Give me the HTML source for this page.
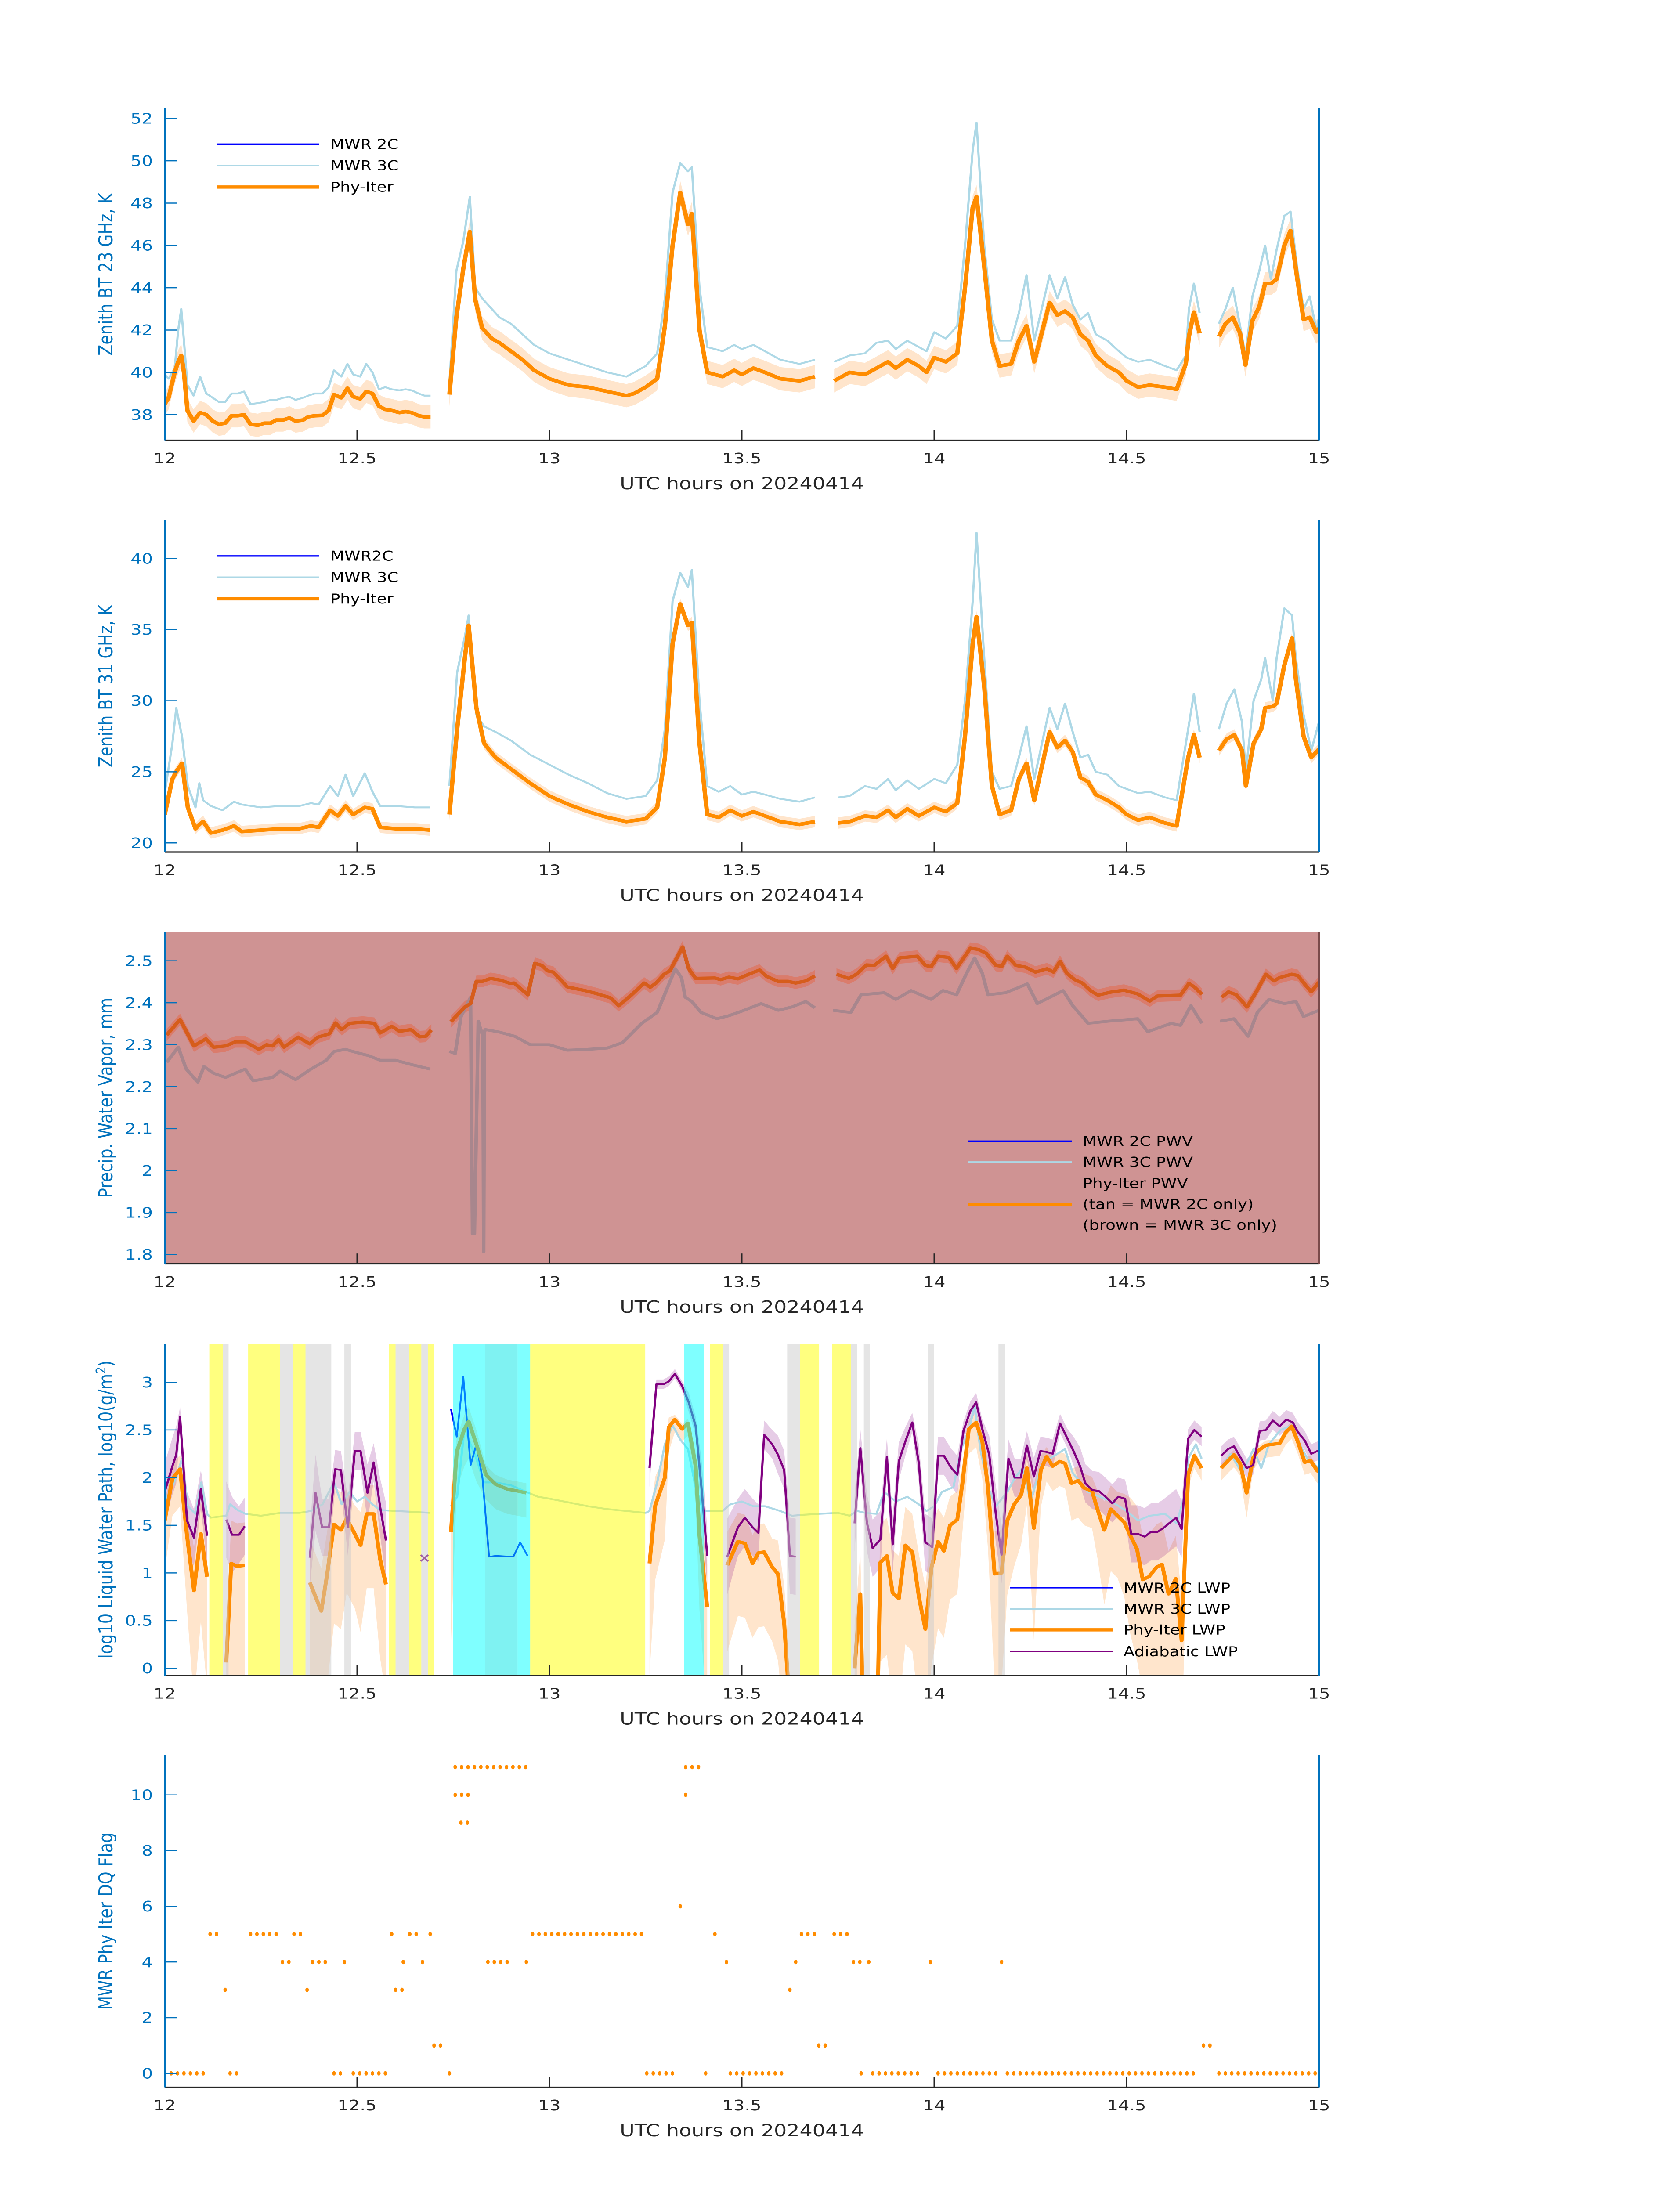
<!DOCTYPE html>
<html><head><meta charset="utf-8"><title>MWR Phy-Iter retrieval, 20240414</title>
<style>html,body{margin:0;padding:0;background:#fff;width:100%;height:100%;overflow:hidden}svg{display:block;width:100vw;height:100vh;font-family:"DejaVu Sans","Liberation Sans",sans-serif}</style>
</head><body>
<svg id="chart" xmlns="http://www.w3.org/2000/svg" viewBox="0 0 3825 6000" preserveAspectRatio="none"></svg>
<script>
// ---------- Panel 1: BT 23 GHz ----------
const t1 = [12.0,12.01,12.026,12.035,12.043,12.05,12.059,12.075,12.092,12.108,12.125,12.141,12.157,12.174,12.19,12.206,12.223,12.242,12.259,12.275,12.29,12.308,12.324,12.34,12.36,12.373,12.39,12.41,12.426,12.44,12.459,12.475,12.49,12.508,12.524,12.54,12.557,12.573,12.59,12.61,12.626,12.642,12.66,12.675,12.691,12.72,12.74,12.758,12.776,12.793,12.807,12.825,12.85,12.87,12.9,12.93,12.96,13.0,13.05,13.1,13.15,13.2,13.22,13.25,13.28,13.3,13.32,13.34,13.36,13.37,13.39,13.41,13.45,13.48,13.5,13.53,13.56,13.6,13.65,13.69,13.72,13.74,13.78,13.82,13.85,13.88,13.9,13.93,13.96,13.98,14.0,14.03,14.06,14.08,14.1,14.11,14.13,14.15,14.17,14.2,14.22,14.24,14.26,14.3,14.32,14.34,14.36,14.38,14.4,14.42,14.45,14.48,14.5,14.53,14.56,14.6,14.63,14.654,14.662,14.675,14.69,14.72,14.74,14.757,14.776,14.795,14.809,14.827,14.845,14.86,14.875,14.89,14.91,14.926,14.943,14.96,14.976,14.993,15.01];
const phy23 = [38.5,38.8,40.0,40.5,40.8,40.0,38.2,37.7,38.1,38.0,37.7,37.55,37.6,37.95,37.95,38.0,37.55,37.5,37.6,37.6,37.75,37.75,37.85,37.7,37.75,37.9,37.95,37.97,38.2,38.95,38.8,39.25,38.85,38.75,39.1,39.0,38.4,38.25,38.2,38.1,38.15,38.1,37.95,37.9,37.9,null,38.95,42.6,44.9,46.65,43.45,42.1,41.6,41.4,41.0,40.6,40.1,39.7,39.4,39.3,39.1,38.9,39.0,39.3,39.7,42.2,46.0,48.5,47.0,47.5,42.0,40.0,39.8,40.1,39.9,40.2,40.0,39.7,39.6,39.8,null,39.6,40.0,39.9,40.2,40.5,40.2,40.6,40.3,40.0,40.7,40.5,40.9,44.0,47.8,48.3,45.0,41.5,40.3,40.4,41.5,42.2,40.5,43.3,42.7,42.9,42.6,41.8,41.5,40.8,40.3,40.0,39.6,39.3,39.4,39.3,39.2,40.4,41.7,42.85,41.85,null,41.7,42.3,42.6,41.85,40.35,42.45,43.1,44.2,44.2,44.4,46.0,46.7,44.5,42.5,42.6,41.9,42.3];
const mwr3c23 = [39.9,39.7,40.2,42.0,43.0,41.5,39.4,38.9,39.8,39.0,38.8,38.6,38.6,39.0,39.0,39.1,38.5,38.55,38.6,38.7,38.7,38.8,38.85,38.7,38.8,38.9,39.0,39.0,39.3,40.1,39.8,40.4,39.9,39.8,40.4,40.0,39.2,39.3,39.2,39.15,39.2,39.15,39.0,38.9,38.9,null,39.5,44.8,46.2,48.3,44.0,43.5,43.0,42.6,42.3,41.8,41.3,40.9,40.6,40.3,40.0,39.8,40.0,40.3,40.9,43.5,48.5,49.9,49.5,49.7,44.0,41.2,41.0,41.3,41.1,41.3,41.0,40.6,40.4,40.6,null,40.5,40.8,40.9,41.4,41.5,41.1,41.5,41.2,41.0,41.9,41.6,42.2,46.0,50.5,51.8,46.0,42.5,41.5,41.5,42.8,44.6,41.5,44.6,43.5,44.5,43.2,42.5,42.8,41.8,41.5,41.0,40.7,40.5,40.6,40.3,40.1,40.8,43.0,44.2,42.8,null,42.3,43.0,44.0,42.2,40.8,43.6,44.8,46.0,44.4,45.8,47.4,47.6,45.0,43.0,43.6,42.0,43.4];
const ticks23 = [38,40,42,44,46,48,50,52];
const unc23 = 0.55;

// ---------- Panel 2: BT 31 GHz ----------
const t2 = [12.0,12.02,12.03,12.045,12.06,12.08,12.09,12.1,12.12,12.15,12.18,12.2,12.25,12.3,12.35,12.38,12.4,12.43,12.45,12.47,12.49,12.52,12.54,12.56,12.6,12.65,12.69,12.72,12.74,12.76,12.78,12.79,12.81,12.83,12.86,12.9,12.95,13.0,13.05,13.1,13.15,13.2,13.25,13.28,13.3,13.32,13.34,13.36,13.37,13.39,13.41,13.44,13.47,13.5,13.53,13.56,13.6,13.65,13.69,13.72,13.75,13.78,13.82,13.85,13.88,13.9,13.93,13.96,14.0,14.03,14.06,14.08,14.1,14.11,14.13,14.15,14.17,14.2,14.22,14.24,14.26,14.3,14.32,14.34,14.36,14.38,14.4,14.42,14.45,14.48,14.5,14.53,14.56,14.6,14.63,14.66,14.675,14.69,14.72,14.74,14.76,14.78,14.8,14.81,14.83,14.85,14.86,14.88,14.89,14.91,14.93,14.94,14.96,14.98,15.0];
const phy31 = [22.0,24.5,25.0,25.6,22.5,21.0,21.3,21.5,20.7,20.9,21.2,20.8,20.9,21.0,21.0,21.2,21.1,22.3,21.9,22.6,22.0,22.5,22.4,21.1,21.0,21.0,20.9,null,22.0,28.0,33.0,35.3,29.5,27.0,26.0,25.2,24.2,23.3,22.7,22.2,21.8,21.5,21.7,22.5,26.0,34.0,36.8,35.3,35.5,27.0,22.0,21.8,22.3,21.9,22.2,21.9,21.5,21.3,21.5,null,21.4,21.5,21.9,21.8,22.3,21.8,22.4,21.9,22.5,22.2,22.8,27.5,34.0,35.9,31.0,24.0,22.0,22.3,24.5,25.6,23.0,27.8,26.7,27.2,26.4,24.6,24.3,23.4,23.0,22.5,22.0,21.6,21.8,21.4,21.2,26.0,27.6,26.0,null,26.5,27.3,27.6,26.5,24.0,27.0,28.0,29.5,29.6,29.8,32.5,34.4,31.5,27.5,26.0,26.6];
const mwr3c31 = [23.5,27.0,29.5,27.5,24.0,22.5,24.2,23.0,22.6,22.3,22.9,22.7,22.5,22.6,22.6,22.8,22.7,24.0,23.3,24.8,23.3,24.9,23.6,22.6,22.6,22.5,22.5,null,24.0,32.0,34.5,36.0,29.0,28.2,27.8,27.2,26.2,25.5,24.8,24.2,23.5,23.1,23.3,24.4,28.0,37.0,39.0,38.0,39.2,30.0,24.0,23.6,24.0,23.4,23.6,23.4,23.1,22.9,23.2,null,23.2,23.3,24.0,23.8,24.5,23.7,24.4,23.8,24.5,24.2,25.5,30.0,37.0,41.8,33.0,25.0,23.8,24.0,26.0,28.2,24.5,29.5,28.0,29.8,27.8,26.0,26.2,25.0,24.8,24.0,23.8,23.5,23.6,23.2,23.0,28.0,30.5,27.8,null,28.0,29.8,30.8,28.5,25.0,30.0,31.5,33.0,30.0,33.0,36.5,36.0,33.0,29.0,26.5,28.5];
const ticks31 = [20,25,30,35,40];
const unc31 = 0.4;

// ---------- Panel 3: PWV ----------
const t3p = [12.005,12.04,12.076,12.107,12.127,12.158,12.184,12.209,12.245,12.265,12.28,12.296,12.31,12.347,12.377,12.398,12.428,12.444,12.46,12.48,12.515,12.545,12.56,12.59,12.61,12.64,12.663,12.678,12.693,12.72,12.744,12.78,12.795,12.81,12.826,12.847,12.872,12.898,12.908,12.944,12.962,12.98,12.995,13.01,13.046,13.092,13.118,13.158,13.18,13.21,13.246,13.262,13.277,13.298,13.313,13.346,13.362,13.38,13.43,13.445,13.466,13.49,13.518,13.546,13.564,13.594,13.62,13.64,13.666,13.69,13.72,13.746,13.778,13.798,13.824,13.844,13.875,13.892,13.91,13.956,13.977,13.992,14.01,14.038,14.058,14.094,14.115,14.135,14.16,14.176,14.19,14.212,14.237,14.263,14.293,14.31,14.327,14.345,14.365,14.385,14.406,14.426,14.457,14.493,14.529,14.56,14.58,14.64,14.662,14.677,14.696,14.72,14.747,14.765,14.785,14.813,14.837,14.862,14.883,14.898,14.929,14.945,14.965,14.98,15.0];
const phyPwv = [2.323,2.36,2.297,2.314,2.294,2.297,2.307,2.307,2.289,2.3,2.297,2.312,2.294,2.318,2.302,2.318,2.326,2.352,2.336,2.351,2.354,2.351,2.328,2.344,2.332,2.336,2.319,2.32,2.335,null,2.355,2.39,2.398,2.451,2.451,2.458,2.454,2.446,2.447,2.419,2.494,2.489,2.476,2.473,2.438,2.429,2.423,2.412,2.393,2.416,2.447,2.437,2.447,2.468,2.476,2.533,2.481,2.458,2.459,2.455,2.461,2.457,2.468,2.478,2.463,2.451,2.451,2.447,2.452,2.464,null,2.468,2.458,2.468,2.49,2.489,2.511,2.482,2.507,2.511,2.489,2.486,2.511,2.508,2.482,2.53,2.527,2.518,2.489,2.487,2.511,2.489,2.485,2.473,2.481,2.473,2.499,2.47,2.455,2.447,2.429,2.418,2.425,2.43,2.421,2.404,2.416,2.418,2.446,2.437,2.42,null,2.413,2.426,2.419,2.39,2.426,2.468,2.452,2.46,2.468,2.465,2.442,2.426,2.449];
const t3c = [12.005,12.035,12.056,12.086,12.102,12.127,12.158,12.209,12.23,12.28,12.3,12.34,12.38,12.42,12.44,12.47,12.5,12.53,12.56,12.6,12.64,12.69,12.72,12.74,12.755,12.77,12.795,12.8,12.805,12.815,12.82,12.827,12.829,12.831,12.833,12.835,12.87,12.91,12.95,13.0,13.046,13.1,13.15,13.19,13.24,13.28,13.313,13.327,13.343,13.353,13.37,13.394,13.435,13.466,13.5,13.55,13.595,13.63,13.666,13.69,13.72,13.737,13.783,13.81,13.87,13.9,13.94,13.992,14.023,14.058,14.084,14.105,14.125,14.14,14.186,14.242,14.268,14.335,14.36,14.4,14.452,14.529,14.555,14.616,14.64,14.667,14.696,14.72,14.743,14.779,14.816,14.84,14.87,14.91,14.94,14.96,15.0];
const mwr3cPwv = [2.258,2.294,2.242,2.211,2.248,2.232,2.222,2.242,2.214,2.222,2.237,2.217,2.242,2.263,2.284,2.289,2.281,2.274,2.263,2.263,2.253,2.242,null,2.284,2.279,2.367,2.413,1.849,1.849,2.356,2.34,2.32,1.807,2.33,2.336,2.336,2.33,2.32,2.3,2.3,2.287,2.289,2.292,2.305,2.351,2.377,2.45,2.481,2.46,2.413,2.403,2.377,2.362,2.369,2.38,2.398,2.382,2.39,2.403,2.388,null,2.382,2.377,2.419,2.424,2.408,2.429,2.408,2.429,2.419,2.47,2.507,2.47,2.419,2.424,2.445,2.398,2.429,2.393,2.351,2.356,2.362,2.331,2.351,2.346,2.393,2.351,null,2.356,2.362,2.32,2.377,2.408,2.398,2.403,2.367,2.382];
const ticksPwv = [1.8,1.9,2.0,2.1,2.2,2.3,2.4,2.5];
const uncPwv = 0.014;

// ---------- Panel 4: LWP ----------
const t4o = [12.0,12.02,12.04,12.058,12.076,12.094,12.11,12.13,12.16,12.173,12.188,12.208,12.3,12.377,12.392,12.407,12.422,12.44,12.458,12.473,12.494,12.509,12.525,12.543,12.56,12.575,12.7,12.744,12.759,12.779,12.79,12.81,12.835,12.86,12.89,12.917,12.94,13.1,13.26,13.275,13.3,13.31,13.326,13.345,13.36,13.38,13.39,13.41,13.43,13.462,13.49,13.508,13.528,13.543,13.558,13.579,13.594,13.61,13.62,13.7,13.793,13.808,13.813,13.83,13.854,13.86,13.877,13.892,13.908,13.925,13.943,13.961,13.977,13.993,14.01,14.025,14.041,14.06,14.073,14.09,14.109,14.125,14.14,14.157,14.175,14.19,14.208,14.226,14.241,14.259,14.277,14.292,14.308,14.326,14.34,14.357,14.374,14.39,14.41,14.425,14.442,14.459,14.476,14.494,14.51,14.527,14.542,14.558,14.578,14.592,14.609,14.628,14.643,14.66,14.676,14.695,14.72,14.746,14.764,14.779,14.795,14.812,14.829,14.841,14.862,14.898,14.913,14.929,14.945,14.963,14.978,14.996,15.01];
const phyLwp = [1.55,1.99,2.09,1.39,0.815,1.41,0.96,null,0.06,1.1,1.07,1.08,null,0.9,0.75,0.6,0.98,1.51,1.45,1.57,1.41,1.29,1.62,1.62,1.14,0.88,null,1.43,2.27,2.51,2.59,2.35,2.03,1.93,1.88,1.86,1.84,null,1.1,1.71,2.0,2.53,2.61,2.51,2.57,2.12,1.39,0.64,null,1.08,1.33,1.31,1.1,1.21,1.22,1.06,0.99,0.47,-0.13,null,0.0,0.78,-0.13,null,-0.13,1.11,1.18,0.79,0.73,1.29,1.22,0.73,0.41,1.06,1.33,1.23,1.5,1.56,1.93,2.51,2.58,2.38,1.89,0.99,1.0,1.55,1.72,1.82,2.1,1.47,2.08,2.22,2.12,2.17,2.15,1.94,1.97,1.89,1.86,1.66,1.45,1.67,1.6,1.53,1.39,1.25,0.93,0.96,1.06,1.09,0.78,0.94,0.29,2.03,2.23,2.1,null,2.1,2.18,2.24,2.15,1.84,2.21,2.28,2.34,2.36,2.47,2.54,2.38,2.16,2.18,2.07,2.15];
const phyLwpErr = [0.4,0.3,0.3,0.6,0.9,0.7,0.9,null,0.6,0.9,0.9,0.9,null,0.9,0.9,0.9,0.9,0.8,0.8,0.6,0.6,0.7,0.6,0.6,0.8,0.9,null,0.9,0.3,0.3,0.3,0.3,0.2,0.2,0.2,0.2,0.2,null,0.9,0.6,0.5,0.2,0.1,0.1,0.1,0.3,0.6,0.9,null,0.7,0.6,0.6,0.6,0.6,0.6,0.6,0.7,0.8,0.9,null,0.9,0.9,0.9,null,0.9,0.8,0.8,0.9,0.9,0.8,0.8,0.9,0.9,0.8,0.7,0.7,0.6,0.6,0.4,0.2,0.2,0.3,0.5,0.9,0.9,0.6,0.5,0.4,0.3,0.9,0.3,0.2,0.2,0.2,0.2,0.3,0.3,0.3,0.3,0.4,0.6,0.5,0.5,0.6,0.8,0.9,0.9,0.9,0.9,0.9,0.9,0.9,0.9,0.1,0.1,0.1,null,0.1,0.1,0.1,0.1,0.2,0.1,0.1,0.1,0.1,0.1,0.1,0.1,0.1,0.1,0.1,0.1];
const t4a = [12.0,12.02,12.03,12.04,12.058,12.076,12.094,12.11,12.13,12.16,12.175,12.193,12.208,12.3,12.377,12.392,12.409,12.427,12.443,12.458,12.476,12.494,12.509,12.527,12.543,12.56,12.575,12.9,13.26,13.278,13.296,13.31,13.326,13.345,13.362,13.38,13.395,13.41,13.43,13.462,13.49,13.508,13.528,13.543,13.558,13.579,13.594,13.61,13.625,13.64,13.7,13.793,13.808,13.825,13.84,13.86,13.877,13.892,13.908,13.925,13.943,13.96,13.977,13.995,14.01,14.025,14.043,14.06,14.076,14.094,14.109,14.125,14.143,14.16,14.175,14.193,14.209,14.225,14.241,14.259,14.276,14.292,14.308,14.327,14.345,14.362,14.379,14.393,14.411,14.428,14.445,14.463,14.478,14.496,14.512,14.529,14.547,14.563,14.58,14.595,14.61,14.629,14.643,14.66,14.676,14.695,14.72,14.746,14.764,14.779,14.795,14.812,14.829,14.846,14.862,14.88,14.898,14.915,14.932,14.945,14.963,14.98,14.996,15.01];
const adiLwp = [1.85,2.12,2.24,2.64,1.55,1.37,1.88,1.39,null,1.56,1.4,1.4,1.49,null,1.16,1.84,1.48,1.48,2.09,2.08,1.48,2.28,2.28,1.84,2.16,1.69,1.34,null,2.1,2.98,2.98,3.01,3.09,2.96,2.79,2.54,1.9,1.18,null,1.17,1.48,1.58,1.48,1.42,2.45,2.35,2.24,2.08,1.18,1.17,null,1.52,2.31,1.53,1.26,1.35,2.22,1.3,2.17,2.38,2.58,2.15,1.32,1.27,2.23,2.23,2.11,2.03,2.49,2.7,2.79,2.51,2.24,1.62,1.19,2.2,2.0,2.0,2.34,2.01,2.28,2.27,2.25,2.57,2.42,2.28,2.12,1.94,1.87,1.86,1.8,1.73,1.8,1.78,1.41,1.41,1.38,1.43,1.43,1.47,1.52,1.58,1.46,2.41,2.5,2.43,null,2.23,2.3,2.33,2.22,2.1,2.13,2.49,2.5,2.6,2.54,2.61,2.58,2.48,2.39,2.25,2.28,2.25];
const adiLwpErr = [0.3,0.3,0.3,0.1,0.3,0.3,0.2,0.3,null,0.4,0.4,0.3,0.3,null,0.3,0.4,0.3,0.3,0.2,0.2,0.3,0.2,0.2,0.3,0.2,0.3,0.4,null,0.2,0.05,0.05,0.05,0.05,0.05,0.1,0.1,0.3,0.3,null,0.4,0.3,0.3,0.3,0.3,0.15,0.15,0.2,0.2,0.4,0.4,null,0.3,0.2,0.3,0.3,0.3,0.2,0.3,0.2,0.15,0.1,0.2,0.3,0.3,0.2,0.2,0.2,0.2,0.1,0.1,0.1,0.1,0.2,0.3,0.3,0.2,0.2,0.2,0.15,0.2,0.15,0.15,0.15,0.1,0.1,0.15,0.2,0.2,0.2,0.2,0.2,0.2,0.2,0.2,0.3,0.3,0.3,0.3,0.3,0.3,0.3,0.3,0.3,0.1,0.1,0.1,null,0.1,0.1,0.1,0.1,0.1,0.1,0.1,0.1,0.1,0.1,0.1,0.1,0.1,0.1,0.1,0.1,0.1];
const t4c = [12.0,12.03,12.045,12.06,12.08,12.095,12.11,12.12,12.16,12.17,12.19,12.21,12.25,12.3,12.35,12.38,12.41,12.44,12.46,12.48,12.5,12.52,12.54,12.56,12.6,12.65,12.69,12.72,12.744,12.76,12.78,12.79,12.81,12.83,12.86,12.9,12.94,12.97,13.0,13.05,13.1,13.15,13.2,13.25,13.26,13.28,13.3,13.32,13.34,13.36,13.38,13.4,13.45,13.47,13.5,13.53,13.56,13.6,13.63,13.66,13.7,13.75,13.78,13.8,13.82,13.85,13.87,13.9,13.93,13.96,13.98,14.0,14.02,14.05,14.07,14.09,14.105,14.12,14.14,14.16,14.19,14.21,14.23,14.25,14.28,14.3,14.32,14.34,14.36,14.38,14.4,14.43,14.46,14.5,14.53,14.56,14.6,14.63,14.65,14.66,14.68,14.695,14.72,14.746,14.77,14.8,14.83,14.85,14.87,14.9,14.93,14.95,14.97,15.0];
const mwr3cLwp = [1.75,2.0,2.2,1.7,1.62,1.95,1.62,1.58,1.6,1.72,1.66,1.62,1.6,1.63,1.63,1.65,1.72,1.95,1.72,1.85,1.75,1.8,1.72,1.66,1.65,1.64,1.63,null,1.7,1.8,2.55,2.4,2.2,1.95,1.95,1.92,1.85,1.8,1.78,1.74,1.7,1.67,1.65,1.63,1.65,1.95,2.35,2.55,2.4,2.3,1.9,1.65,1.65,1.72,1.75,1.7,1.7,1.65,1.6,1.61,1.62,1.63,1.6,1.65,1.63,1.62,1.85,1.75,1.8,1.72,1.65,1.7,1.85,1.9,2.3,2.5,2.75,2.3,1.9,1.7,1.85,2.0,2.1,1.75,2.15,2.2,2.25,2.3,2.05,1.95,1.85,1.8,1.75,1.65,1.55,1.6,1.62,1.52,1.8,2.2,2.35,2.2,null,2.1,2.25,2.05,2.3,2.1,2.35,2.5,2.55,2.35,2.2,2.1];
const t4b = [12.744,12.759,12.776,12.795,12.81,12.826,12.843,12.86,12.906,12.924,12.943];
const mwr2cLwp = [2.72,2.43,3.06,2.13,2.35,1.99,1.17,1.18,1.17,1.32,1.18];
const bandStart = [12.116,12.151,12.217,12.300,12.333,12.366,12.467,12.583,12.600,12.635,12.667,12.684,12.750,12.833,12.917,12.950,13.350,13.417,13.452,13.618,13.651,13.735,13.784,13.817,13.983,14.167];
const bandEnd   = [12.151,12.166,12.300,12.333,12.366,12.433,12.484,12.600,12.635,12.667,12.684,12.699,12.833,12.917,12.950,13.249,13.401,13.452,13.467,13.651,13.701,13.784,13.800,13.833,14.000,14.184];
const bandKind  = ['Y','G','Y','G','Y','G','G','Y','G','Y','G','Y','C','D','C','Y','C','Y','G','G','Y','Y','G','G','G','G'];
const ticksLwp = [0,0.5,1,1.5,2,2.5,3];

// ---------- Panel 5: DQ flag ----------
const runStart = [12.0,12.118,12.157,12.17,12.223,12.306,12.336,12.37,12.384,12.44,12.467,12.49,12.59,12.6,12.62,12.637,12.67,12.69,12.70,12.74,12.755,12.755,12.77,12.84,12.94,12.956,13.253,13.34,13.354,13.354,13.406,13.43,13.46,13.47,13.625,13.64,13.655,13.70,13.74,13.79,13.81,13.83,13.84,13.99,14.01,14.175,14.19,14.70,14.74];
const runEnd   = [12.1,12.144,12.157,12.2,12.29,12.33,12.36,12.37,12.43,12.46,12.467,12.575,12.59,12.62,12.62,12.655,12.67,12.69,12.72,12.74,12.79,12.95,12.79,12.9,12.94,13.245,13.33,13.34,13.354,13.39,13.406,13.44,13.46,13.61,13.625,13.64,13.69,13.725,13.78,13.81,13.81,13.83,13.97,13.99,14.16,14.175,14.68,14.725,15.0];
const runValue = [0,5,3,0,5,4,5,3,4,0,4,0,5,3,4,5,4,5,1,0,10,11,9,4,4,5,0,6,10,11,0,5,4,0,3,4,5,1,5,4,0,4,0,4,0,4,0,1,0];
const dqCadence = 1/60;
const ticksDq = [0,2,4,6,8,10];

// ---------- drawing ----------
const NS = 'http://www.w3.org/2000/svg';
const svg = document.getElementById('chart');
const X0 = 375, X1 = 3003, H0 = 12, H1 = 15;
function xs(h){ return X0 + (h - H0) / (H1 - H0) * (X1 - X0); }
function mk(tag, attrs, parent, name, inter){
  const n = document.createElementNS(NS, tag);
  for (const k in attrs) n.setAttribute(k, attrs[k]);
  
  
  parent.appendChild(n);
  return n;
}
function segments(t, v){
  const segs = []; let cur = [];
  for (let i = 0; i < t.length; i++){
    if (v[i] === null || t[i] === null){ if (cur.length) segs.push(cur); cur = []; }
    else cur.push(i);
  }
  if (cur.length) segs.push(cur);
  return segs;
}
function linePath(t, v, ys){
  return segments(t, v).map(s => s.map((i,k)=> (k?'L':'M') + xs(t[i]).toFixed(1) + ',' + ys(v[i]).toFixed(1)).join('')).join('');
}
function bandPath(t, v, eLo, eHi, ys){
  return segments(t, v).map(s => {
    const up = s.map((i,k)=> (k?'L':'M') + xs(t[i]).toFixed(1) + ',' + ys(v[i] + eHi(i)).toFixed(1)).join('');
    const lo = s.slice().reverse().map(i=> 'L' + xs(t[i]).toFixed(1) + ',' + ys(v[i] - eLo(i)).toFixed(1)).join('');
    return up + lo + 'Z';
  }).join('');
}
function panel(idx, top, bottom, ymin, ymax, yticks, ylabel, name, fmt){
  const g = mk('g', {}, svg, name, false);
  const ys = v => top + (ymax - v) / (ymax - ymin) * (bottom - top);
  const cid = 'clip' + idx;
  const cp = mk('clipPath', {id: cid}, g, name + '-clip', false);
  mk('rect', {x: X0, y: top, width: X1 - X0, height: bottom - top}, cp, name + '-clip-rect', false);
  const plot = mk('g', {'clip-path': 'url(#' + cid + ')'}, g, name + '-plot-area', false);
  return {g, ys, plot, top, bottom, yticks, ylabel, name, fmt};
}
function axes(p, rightColor){
  const g = mk('g', {}, p.g, p.name + '-axes', false);
  for (const v of p.yticks){
    const y = p.ys(v);
    mk('line', {x1: X0, x2: X0 + 27, y1: y, y2: y, stroke: '#0072bd', 'stroke-width': 3}, g, 'y-tick', false);
    const tx = mk('text', {x: 348, y: y + 14, 'text-anchor': 'end', 'font-size': 40, fill: '#0072bd'}, g, 'y-tick-label', false);
    tx.textContent = p.fmt(v);
  }
  for (const h of [12,12.5,13,13.5,14,14.5,15]){
    const x = xs(h);
    mk('line', {x1: x, x2: x, y1: p.bottom, y2: p.bottom - 28, stroke: '#262626', 'stroke-width': 3}, g, 'x-tick', false);
    const tx = mk('text', {x: x, y: p.bottom + 63, 'text-anchor': 'middle', 'font-size': 40, fill: '#262626'}, g, 'x-tick-label', false);
    tx.textContent = String(h);
  }
  mk('line', {x1: X0, x2: X1, y1: p.bottom, y2: p.bottom, stroke: '#262626', 'stroke-width': 4}, g, 'x-axis-line', false);
  mk('line', {x1: X0, x2: X0, y1: p.top, y2: p.bottom, stroke: '#0072bd', 'stroke-width': 4}, g, 'y-axis-line', false);
  mk('line', {x1: X1, x2: X1, y1: p.top, y2: p.bottom, stroke: rightColor, 'stroke-width': 4}, g, 'right-axis-line', false);
  const xl = mk('text', {x: (X0 + X1) / 2, y: p.bottom + 134, 'text-anchor': 'middle', 'font-size': 46, fill: '#262626'}, g, 'x-axis-title', false);
  xl.textContent = 'UTC hours on 20240414';
  const cy = (p.top + p.bottom) / 2;
  const yl = mk('text', {x: 0, y: 0, transform: 'translate(256,' + cy + ') rotate(-90)', 'text-anchor': 'middle', 'font-size': 44, fill: '#0072bd'}, g, 'y-axis-title', false);
  return yl;
}
function legend(parent, x1, x2, tx, rows, name){
  const g = mk('g', {}, parent, name, false);
  for (const r of rows){
    if (r.color) mk('line', {x1: x1, x2: x2, y1: r.y, y2: r.y, stroke: r.color, 'stroke-width': r.w}, g, 'legend-swatch', false);
    const t = mk('text', {x: tx, y: r.y + 13, 'font-size': 37, fill: '#000'}, g, 'legend-entry', false);
    t.textContent = r.label;
  }
}
const f0 = v => String(v);

// Panel 1
{
  const p = panel(1, 296, 1203, 36.79, 52.48, ticks23, '', 'bt23-panel', f0);
  mk('path', {d: bandPath(t1, phy23, ()=>unc23, ()=>unc23, p.ys), fill: '#ffe5cc'}, p.plot, 'phy-iter-uncertainty-band', false);
  mk('path', {d: linePath(t1, mwr3c23, p.ys), fill: 'none', stroke: '#add8e6', 'stroke-width': 5, 'stroke-linejoin': 'round'}, p.plot, 'mwr-3c-line', false);
  mk('path', {d: linePath(t1, phy23, p.ys), fill: 'none', stroke: '#ff8c00', 'stroke-width': 10, 'stroke-linejoin': 'round'}, p.plot, 'phy-iter-line', false);
  const yl = axes(p, '#0072bd'); yl.textContent = 'Zenith BT 23 GHz, K';
  legend(p.g, 493, 727, 752, [{y:394,label:'MWR 2C',color:'#0000ff',w:4},{y:452,label:'MWR 3C',color:'#add8e6',w:4},{y:511,label:'Phy-Iter',color:'#ff8c00',w:9}], 'bt23-legend');
}
// Panel 2
{
  const p = panel(2, 1421, 2328, 19.36, 42.7, ticks31, '', 'bt31-panel', f0);
  mk('path', {d: bandPath(t2, phy31, ()=>unc31, ()=>unc31, p.ys), fill: '#ffe5cc'}, p.plot, 'phy-iter-uncertainty-band', false);
  mk('path', {d: linePath(t2, mwr3c31, p.ys), fill: 'none', stroke: '#add8e6', 'stroke-width': 5, 'stroke-linejoin': 'round'}, p.plot, 'mwr-3c-line', false);
  mk('path', {d: linePath(t2, phy31, p.ys), fill: 'none', stroke: '#ff8c00', 'stroke-width': 10, 'stroke-linejoin': 'round'}, p.plot, 'phy-iter-line', false);
  const yl = axes(p, '#0072bd'); yl.textContent = 'Zenith BT 31 GHz, K';
  legend(p.g, 493, 727, 752, [{y:1519,label:'MWR2C',color:'#0000ff',w:4},{y:1577,label:'MWR 3C',color:'#add8e6',w:4},{y:1636,label:'Phy-Iter',color:'#ff8c00',w:9}], 'bt31-legend');
}
// Panel 3
{
  const p = panel(3, 2546, 3453, 1.778, 2.569, ticksPwv, '', 'pwv-panel', v => String(Math.round(v*10)/10));
  mk('rect', {x: X0, y: 2546, width: X1 - X0, height: 907, fill: '#cf9393'}, p.plot, 'brown-background-fill', false);
  mk('path', {d: bandPath(t3p, phyPwv, ()=>uncPwv, ()=>uncPwv, p.ys), fill: '#da7c6c'}, p.plot, 'phy-iter-pwv-band', false);
  mk('path', {d: linePath(t3c, mwr3cPwv, p.ys), fill: 'none', stroke: '#a8868d', 'stroke-width': 8, 'stroke-linejoin': 'round'}, p.plot, 'mwr-3c-pwv-line', false);
  mk('path', {d: linePath(t3p, phyPwv, p.ys), fill: 'none', stroke: '#d65d1c', 'stroke-width': 9, 'stroke-linejoin': 'round'}, p.plot, 'phy-iter-pwv-line', false);
  const yl = axes(p, '#7a4a4a'); yl.textContent = 'Precip. Water Vapor, mm';
  legend(p.g, 2205, 2440, 2465, [{y:3118,label:'MWR 2C PWV',color:'#0000ff',w:4},{y:3175,label:'MWR 3C PWV',color:'#add8e6',w:4},{y:3233,label:'Phy-Iter PWV',color:null,w:0},{y:3290,label:'(tan = MWR 2C only)',color:'#ff8c00',w:8},{y:3347,label:'(brown = MWR 3C only)',color:null,w:0}], 'pwv-legend');
}
// Panel 4
{
  const p = panel(4, 3671, 4578, -0.077, 3.407, ticksLwp, '', 'lwp-panel', f0);
  mk('path', {d: bandPath(t4o, phyLwp, i=>phyLwpErr[i]*1.3, i=>phyLwpErr[i]*0.5, p.ys), fill: '#ffe5cc'}, p.plot, 'phy-iter-lwp-band', false);
  mk('path', {d: bandPath(t4a, adiLwp, i=>adiLwpErr[i], i=>adiLwpErr[i], p.ys), fill: '#800080', 'fill-opacity': 0.2}, p.plot, 'adiabatic-lwp-band', false);
  mk('path', {d: linePath(t4c, mwr3cLwp, p.ys), fill: 'none', stroke: '#add8e6', 'stroke-width': 5, 'stroke-linejoin': 'round'}, p.plot, 'mwr-3c-lwp-line', false);
  mk('path', {d: linePath(t4b, mwr2cLwp, p.ys), fill: 'none', stroke: '#0000ff', 'stroke-width': 4, 'stroke-linejoin': 'round'}, p.plot, 'mwr-2c-lwp-line', false);
  mk('path', {d: linePath(t4o, phyLwp, p.ys), fill: 'none', stroke: '#ff8c00', 'stroke-width': 9, 'stroke-linejoin': 'round'}, p.plot, 'phy-iter-lwp-line', false);
  mk('path', {d: linePath(t4a, adiLwp, p.ys), fill: 'none', stroke: '#800080', 'stroke-width': 5, 'stroke-linejoin': 'round'}, p.plot, 'adiabatic-lwp-line', false);
  const bandColors = {Y: '#ffff00', G: '#cccccc', C: '#00ffff', D: '#00e6e6'};
  for (let i = 0; i < bandStart.length; i++){
    mk('rect', {x: xs(bandStart[i]), y: 3671, width: xs(bandEnd[i]) - xs(bandStart[i]), height: 907, fill: bandColors[bandKind[i]], 'fill-opacity': 0.5}, p.plot, 'condition-shading-band', false);
  }
  const xm = mk('text', {x: xs(12.675), y: p.ys(1.16) + 12, 'text-anchor': 'middle', 'font-size': 34, fill: '#a060a0', 'font-weight': 'bold'}, p.plot, 'adiabatic-x-marker', false);
  xm.textContent = '×';
  const yl = axes(p, '#0072bd');
  yl.textContent = 'log10 Liquid Water Path, log10(g/m';
  const sup = mk('tspan', {dy: -16, 'font-size': 30}, yl, 'superscript-2', false);
  sup.textContent = '2';
  const cl = mk('tspan', {dy: 16}, yl, 'closing-paren', false);
  cl.textContent = ')';
  legend(p.g, 2300, 2535, 2558, [{y:4338,label:'MWR 2C LWP',color:'#0000ff',w:4},{y:4396,label:'MWR 3C LWP',color:'#add8e6',w:4},{y:4453,label:'Phy-Iter LWP',color:'#ff8c00',w:9},{y:4512,label:'Adiabatic LWP',color:'#800080',w:4}], 'lwp-legend');
}
// Panel 5
{
  const p = panel(5, 4796, 5703, -0.5, 11.42, ticksDq, '', 'dq-flag-panel', f0);
  for (let r = 0; r < runStart.length; r++){
    for (let h = runStart[r]; h <= runEnd[r] + 1e-6; h += dqCadence){
      mk('ellipse', {cx: xs(h), cy: p.ys(runValue[r]), rx: 4, ry: 6, fill: '#ff8c00'}, p.plot, 'dq-flag-point', false);
    }
  }
  const yl = axes(p, '#0072bd'); yl.textContent = 'MWR Phy Iter DQ Flag';
}
</script>
</body></html>
